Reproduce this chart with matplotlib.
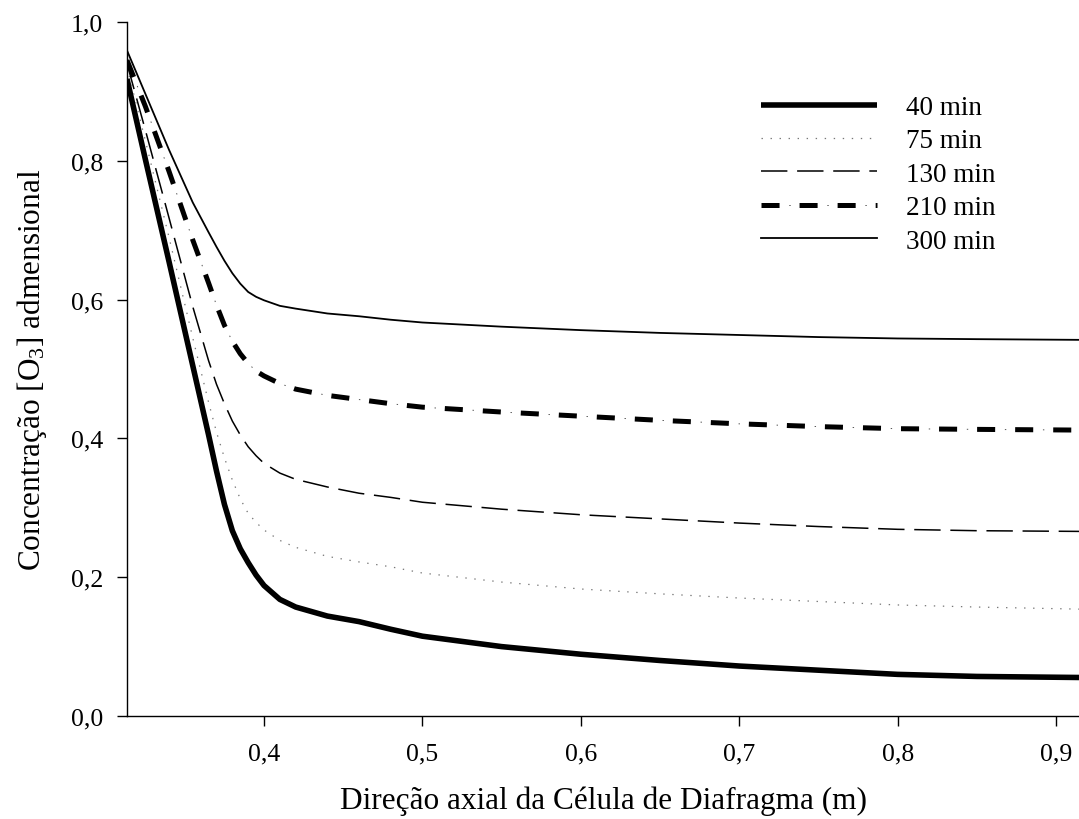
import matplotlib
matplotlib.use("Agg")
import matplotlib.pyplot as plt
from matplotlib.ticker import FixedLocator, FuncFormatter

plt.rcParams["font.family"] = ["Liberation Serif", "DejaVu Serif"]
plt.rcParams["mathtext.fontset"] = "custom"
plt.rcParams["mathtext.rm"] = "Liberation Serif"
plt.rcParams["mathtext.default"] = "regular"
plt.rcParams["lines.scale_dashes"] = False

# axial position (m)
x = [0.3135, 0.325, 0.34, 0.355, 0.365, 0.37, 0.375, 0.38, 0.385, 0.39, 0.395, 0.40, 0.41,
     0.42, 0.44, 0.46, 0.48, 0.50, 0.55, 0.60, 0.65, 0.70, 0.75, 0.80, 0.85, 0.9145]

c40 = [0.918, 0.803, 0.655, 0.505, 0.405, 0.353, 0.305, 0.267, 0.241, 0.221, 0.203, 0.188, 0.168,
       0.157, 0.144, 0.136, 0.125, 0.115, 0.100, 0.089, 0.080, 0.072, 0.066, 0.060, 0.057, 0.0555]
c75 = [0.935, 0.830, 0.690, 0.545, 0.452, 0.409, 0.372, 0.340, 0.313, 0.292, 0.279, 0.268, 0.253,
       0.243, 0.230, 0.222, 0.215, 0.206, 0.193, 0.183, 0.176, 0.170, 0.165, 0.160, 0.157, 0.154]
c130 = [0.940, 0.845, 0.718, 0.590, 0.512, 0.478, 0.450, 0.425, 0.405, 0.388, 0.375, 0.364, 0.350,
        0.341, 0.330, 0.321, 0.315, 0.308, 0.298, 0.290, 0.284, 0.278, 0.273, 0.269, 0.267, 0.266]
c210 = [0.945, 0.879, 0.785, 0.686, 0.624, 0.592, 0.563, 0.540, 0.522, 0.508, 0.497, 0.490, 0.479,
        0.471, 0.462, 0.456, 0.450, 0.445, 0.438, 0.432, 0.426, 0.421, 0.417, 0.414, 0.413, 0.412]
c300 = [0.959, 0.897, 0.816, 0.740, 0.697, 0.676, 0.656, 0.638, 0.623, 0.611, 0.604, 0.599, 0.591,
        0.587, 0.580, 0.576, 0.571, 0.567, 0.561, 0.556, 0.552, 0.549, 0.546, 0.544, 0.543, 0.542]

labels = ["40 min", "75 min", "130 min", "210 min", "300 min"]
xticks = [0.4, 0.5, 0.6, 0.7, 0.8, 0.9]
yticks = [0.0, 0.2, 0.4, 0.6, 0.8, 1.0]

fig = plt.figure(figsize=(10.79, 8.2), dpi=100)
ax = fig.add_axes([127 / 1079, 103 / 820, 952 / 1079, 694 / 820])

l40, = ax.plot(x, c40, color="black", lw=4.0, solid_capstyle="butt", solid_joinstyle="round")
l75, = ax.plot(x, c75, color="#777777", lw=0.9, linestyle=(0, (1, 5.5)))
l130, = ax.plot(x, c130, color="black", lw=1.1, linestyle=(0, (19, 7)))
l210a, = ax.plot(x, c210, color="black", lw=3.6, linestyle=(0, (13, 14.4)),
                 dash_capstyle="butt")
l210b, = ax.plot(x, c210, color="#555555", lw=0.7, linestyle=(7.4, (1, 26.4)))
l300, = ax.plot(x, c300, color="black", lw=1.3)

ax.set_xlim(0.3135, 0.9145)
ax.set_ylim(0, 1.0)
ax.spines["top"].set_visible(False)
ax.spines["right"].set_visible(False)
for s in ["left", "bottom"]:
    ax.spines[s].set_linewidth(1.0)

comma = FuncFormatter(lambda v, p: f"{v:.1f}".replace(".", ","))
ax.xaxis.set_major_locator(FixedLocator(xticks))
ax.yaxis.set_major_locator(FixedLocator(yticks))
ax.xaxis.set_major_formatter(comma)
ax.yaxis.set_major_formatter(comma)
ax.tick_params(direction="out", length=7, width=1, labelsize=18.5)
ax.tick_params(axis="x", pad=12)
ax.tick_params(axis="y", pad=10)

ax.set_xlabel("Direção axial da Célula de Diafragma (m)", fontsize=22.5, labelpad=15)
ax.set_ylabel("Concentração [O$_3$] admensional", fontsize=22.5, labelpad=16)

ax.legend([l40, l75, l130, (l210a, l210b), l300], labels,
          loc="upper left", bbox_to_anchor=(761 / 1079, 1 - 96 / 820),
          bbox_transform=fig.transFigure, frameon=False, fontsize=19.5,
          handlelength=4.3, handletextpad=1.05, labelspacing=0.31,
          borderpad=0, borderaxespad=0)

fig.savefig("out.png", dpi=100)
